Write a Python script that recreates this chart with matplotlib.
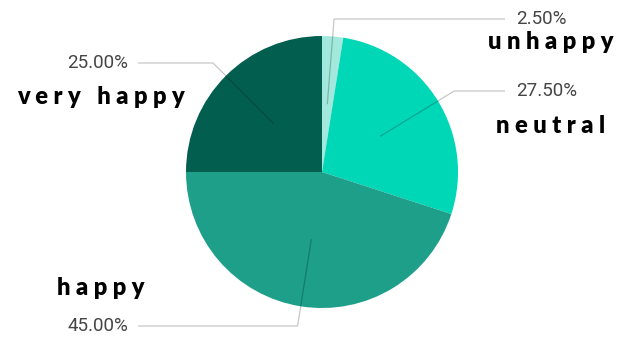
import numpy as np
import matplotlib.pyplot as plt

# mood survey shares, clockwise from 12 o'clock
categories = ["unhappy", "neutral", "happy", "very happy"]
shares = [2.5, 27.5, 45.0, 25.0]
colors = ["#a2e8dc", "#00d7b7", "#1d9f89", "#025f4f"]

# label rows (pixel y from top) and which side they sit on
label_y = [19, 91, 326, 63]
name_y = [42, 126, 288, 97]
side = [1, 1, -1, -1]

W, H = 628, 339
cx, cy, R = 322, H - 172, 136

fig = plt.figure(figsize=(W / 100, H / 100), dpi=100)
ax = fig.add_axes([0, 0, 1, 1])

wedges, _ = ax.pie(shares, colors=colors, startangle=90, counterclock=False,
                   center=(cx, cy), radius=R, frame=True,
                   wedgeprops=dict(linewidth=0))
ax.set_xlim(0, W)
ax.set_ylim(0, H)
ax.set_aspect("equal")
ax.axis("off")

def spaced(s):
    # wide tracking on the category names
    return " ".join(s)

for w, name, v, ly, ny, sd in zip(wedges, categories, shares, label_y, name_y, side):
    ang = np.deg2rad((w.theta1 + w.theta2) / 2)
    x0 = cx + 0.5 * R * np.cos(ang)
    y0 = cy + 0.5 * R * np.sin(ang)
    yl = H - ly
    # walk along the radial ray until the label row
    t = (yl - y0) / np.sin(ang)
    xe = x0 + t * np.cos(ang)
    xend = 505 if sd > 0 else 138
    ax.plot([x0, xe, xend], [y0, yl, yl], color="k", alpha=0.22, lw=0.9,
            solid_capstyle="butt", solid_joinstyle="miter")
    if sd > 0:
        ax.text(516, yl, f"{v:.2f}%", ha="left", va="center", fontsize=13.5,
                family="Roboto", color="#454545")
        ax.text(551, H - ny, spaced(name), ha="center", va="center",
                fontsize=17, family="Lato", fontweight="heavy", color="black")
    else:
        ax.text(128, yl, f"{v:.2f}%", ha="right", va="center", fontsize=13.5,
                family="Roboto", color="#454545")
        ax.text(101, H - ny, spaced(name), ha="center", va="center",
                fontsize=17, family="Lato", fontweight="heavy", color="black")

fig.savefig("out.png", dpi=100, facecolor="white")
